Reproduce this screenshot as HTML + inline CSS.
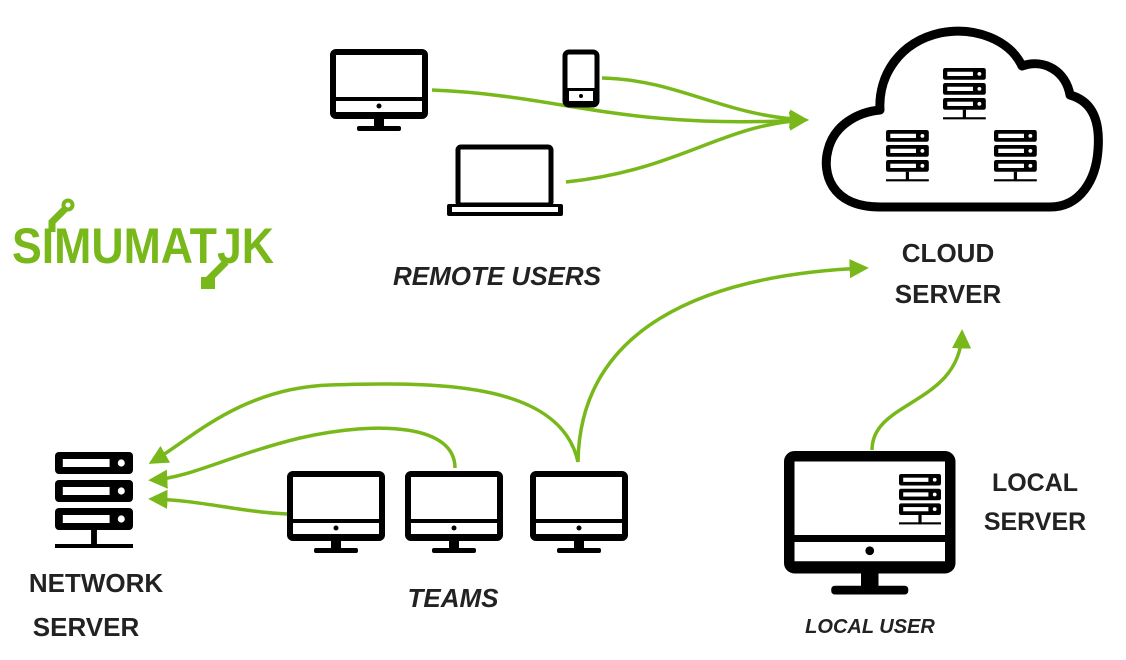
<!DOCTYPE html>
<html><head><meta charset="utf-8"><style>
html,body{margin:0;padding:0;background:#fff;}
svg{display:block}
text{font-family:"Liberation Sans",sans-serif;font-weight:bold;fill:#222;}
</style></head><body>
<svg width="1126" height="660" viewBox="0 0 1126 660" xmlns="http://www.w3.org/2000/svg">
<defs>
<g id="mon">
 <rect x="3" y="3" width="92" height="64" rx="3" fill="none" stroke="#000" stroke-width="6"/>
 <rect x="3" y="48" width="92" height="19" fill="#000"/>
 <rect x="6" y="52" width="86" height="11" fill="#fff"/>
 <circle cx="49" cy="57" r="2.5" fill="#000"/>
 <rect x="44" y="67" width="10" height="11" fill="#000"/>
 <rect x="27" y="77" width="44" height="5" rx="2" fill="#000"/>
</g>
<g id="srv">
 <rect x="0" y="0" width="40" height="11" rx="2" fill="#000"/>
 <rect x="4" y="3.5" width="24" height="4" fill="#fff"/><circle cx="34" cy="5.5" r="1.8" fill="#fff"/>
 <rect x="0" y="14" width="40" height="11" rx="2" fill="#000"/>
 <rect x="4" y="17.5" width="24" height="4" fill="#fff"/><circle cx="34" cy="19.5" r="1.8" fill="#fff"/>
 <rect x="0" y="28" width="40" height="11" rx="2" fill="#000"/>
 <rect x="4" y="31.5" width="24" height="4" fill="#fff"/><circle cx="34" cy="33.5" r="1.8" fill="#fff"/>
 <rect x="18.5" y="39" width="3" height="8" fill="#000"/>
 <rect x="0" y="46" width="40" height="2" fill="#000"/>
</g>
<marker id="ah" viewBox="0 0 10 10" refX="8" refY="5" markerWidth="5.5" markerHeight="5.5" orient="auto" markerUnits="strokeWidth">
 <path d="M0,0 L10,5 L0,10 z" fill="#78b81a"/>
</marker>
</defs>

<g fill="none" stroke="#78b81a" stroke-width="3.5" marker-end="url(#ah)">
 <path d="M432,90 C560,95 620,130 805,120"/>
 <path d="M602,78 C680,80 720,115 805,120"/>
 <path d="M566,182 C680,170 720,125 805,120"/>
 <path d="M578,462 C580,330 700,275 865,268"/>
 <path d="M578,462 C560,380 430,382 330,385 C240,388 190,440 152,462"/>
 <path d="M455,468 C455,425 380,420 300,438 C230,455 190,478 152,480"/>
 <path d="M287,514 C240,512 200,500 152,499"/>
 <path d="M872,450 C872,400 960,405 962,333"/>
</g>

<use href="#mon" x="330" y="49"/>
<rect x="565" y="52" width="32" height="53" rx="4" fill="none" stroke="#000" stroke-width="5"/>
<rect x="565" y="88" width="32" height="17" fill="#000"/>
<rect x="569" y="91" width="24" height="10" fill="#fff"/>
<circle cx="581" cy="96" r="2" fill="#000"/>
<rect x="458" y="147" width="93" height="58" rx="3" fill="none" stroke="#000" stroke-width="5"/>
<rect x="447" y="204" width="116" height="12" rx="2" fill="#000"/>
<rect x="452" y="207" width="106" height="5" fill="#fff"/>

<path d="M880,207 C830,207 822,172 828,150 C834,125 858,112 880,110 C878,75 900,42 940,33 C975,26 1010,40 1022,66 C1045,58 1066,72 1070,95 C1095,102 1100,125 1098,150 C1096,180 1080,207 1050,207 Z" fill="none" stroke="#000" stroke-width="9" stroke-linejoin="round"/>
<use href="#srv" transform="translate(943,68) scale(1.07)"/>
<use href="#srv" transform="translate(886,130) scale(1.07)"/>
<use href="#srv" transform="translate(994,130) scale(1.07)"/>

<use href="#srv" transform="translate(55,452) scale(1.95,2)"/>

<use href="#mon" x="287" y="471"/>
<use href="#mon" x="405" y="471"/>
<use href="#mon" x="530" y="471"/>

<g transform="translate(784,451) scale(1.75)">
 <use href="#mon"/>
</g>
<use href="#srv" transform="translate(899,474) scale(1.05)"/>

<!-- logo -->
<g fill="none" stroke="#78b81a" stroke-width="7">
 <path d="M52,232 L52,222 L66,208"/>
 <circle cx="68" cy="205" r="4.5" stroke-width="4"/>
 <path d="M226,262 L208,280"/>
</g>
<rect x="201" y="277" width="14" height="12" fill="#78b81a"/>
<text x="12" y="263" font-size="50" style="fill:#78b81a" textLength="262" lengthAdjust="spacingAndGlyphs">SIMUMATJK</text>

<text x="497" y="285" font-size="26" font-style="italic" text-anchor="middle">REMOTE USERS</text>
<text x="948" y="262" font-size="26" text-anchor="middle">CLOUD</text>
<text x="948" y="303" font-size="26" text-anchor="middle">SERVER</text>
<text x="1035" y="491" font-size="25" text-anchor="middle">LOCAL</text>
<text x="1035" y="530" font-size="25" text-anchor="middle">SERVER</text>
<text x="96" y="592" font-size="26" text-anchor="middle">NETWORK</text>
<text x="86" y="636" font-size="26" text-anchor="middle">SERVER</text>
<text x="453" y="607" font-size="26" font-style="italic" text-anchor="middle">TEAMS</text>
<text x="870" y="633" font-size="20" font-style="italic" text-anchor="middle">LOCAL USER</text>
</svg>
</body></html>
